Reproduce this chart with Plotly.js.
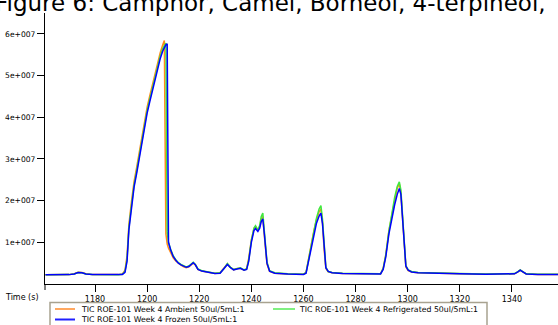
<!DOCTYPE html>
<html>
<head>
<meta charset="utf-8">
<script src="https://cdn.plot.ly/plotly-3.0.1.min.js"></script>
<style>html,body{margin:0;padding:0;background:#fff;}#chart{width:558px;height:325px;}</style>
</head>
<body>
<div id="chart"></div>
<script>
// Retention time (s)
var timeS = [1161,1166,1170,1172,1173.5,1175,1176.5,1179,1184,1189,
  1190.5,1191.5,1192.3,1193,1194,1195,1196,1197,1198,1199,
  1200,1201,1202,1203,1204,1205,1206,1206.6,1207.2,1207.7,
  1208.2,1209,1210,1211,1212,1213,1214,1215,1216,1217,
  1217.7,1218.5,1219.5,1221,1223,1226,1228,1229.5,1230.8,1232,
  1233.2,1234.5,1235.8,1237.2,1238.2,1239,1240,1241,1241.6,1242.5,
  1243.2,1243.8,1244.4,1245,1246,1247,1249,1254,1260,1261,
  1262,1263,1264,1265,1266,1266.7,1267.3,1267.9,1268.6,1269.5,
  1271,1275,1282,1288,1289.6,1290.6,1291.6,1292.8,1294,1295,
  1296,1296.8,1297.4,1298,1298.7,1299.3,1300.2,1301.5,1304,1310,
  1320,1330,1338,1341,1342.3,1343.2,1344.2,1345.5,1350,1358];

// TIC intensities (millions of counts)
var ambientM = [2.2,2.2,2.25,2.45,2.8,2.75,2.45,2.25,2.2,2.25,
  2.4,3.3,6.8,14.2,19.8,24.6,28.0,31.8,35.5,39.1,
  42.4,45.1,47.7,50.3,53.0,55.4,57.4,58.4,12.0,9.6,
  8.6,7.6,6.3,5.5,4.9,4.5,4.1,3.9,4.1,4.7,
  5.0,4.6,3.5,3.1,2.8,2.5,2.7,3.7,4.8,4.0,
  3.4,3.7,3.8,3.3,3.7,6.2,10.6,13.3,13.8,12.9,
  13.8,15.6,16.2,11.5,4.8,3.0,2.6,2.4,2.35,2.8,
  6.2,9.8,12.8,15.4,17.3,18.0,14.8,8.5,3.7,2.9,
  2.7,2.5,2.4,2.35,2.45,3.8,7.0,12.8,17.0,20.3,
  23.0,24.0,21.8,16.0,8.5,4.1,3.2,2.9,2.7,2.55,
  2.45,2.35,2.3,2.45,2.9,3.3,2.9,2.4,2.3,2.3];

var refrigeratedM = [2.2,2.2,2.25,2.4,2.75,2.7,2.4,2.25,2.2,2.2,
  2.35,3.0,6.0,13.5,18.9,23.8,27.2,30.9,34.6,38.2,
  41.6,44.3,46.9,49.4,52.2,54.6,56.5,57.3,57.8,12.5,
  9.9,8.4,6.8,5.8,5.1,4.7,4.3,4.1,4.3,4.9,
  5.2,4.7,3.6,3.2,2.9,2.6,2.7,3.7,4.9,4.0,
  3.5,3.7,3.9,3.4,3.6,5.8,10.4,13.4,14.0,13.0,
  14.0,16.2,17.0,12.6,5.3,3.2,2.7,2.45,2.35,2.7,
  5.9,9.6,12.9,15.8,18.0,18.8,15.6,9.3,4.0,3.0,
  2.75,2.55,2.45,2.4,2.45,3.7,6.9,12.7,17.3,20.8,
  23.4,24.5,22.5,17.3,9.4,4.4,3.4,3.0,2.75,2.6,
  2.5,2.4,2.35,2.5,2.95,3.35,2.95,2.45,2.35,2.35];

var frozenM = [2.2,2.2,2.25,2.4,2.75,2.7,2.4,2.25,2.2,2.2,
  2.3,2.8,5.5,13.0,18.3,23.3,26.6,30.3,34.0,37.6,
  41.0,43.7,46.3,48.8,51.6,54.0,55.9,56.8,57.4,57.6,
  10.0,8.2,6.6,5.7,5.0,4.6,4.2,4.0,4.2,4.8,
  5.1,4.6,3.5,3.1,2.8,2.5,2.6,3.6,4.7,3.9,
  3.4,3.6,3.75,3.3,3.5,5.5,10.0,12.8,13.3,12.6,
  13.4,15.0,15.6,12.0,5.0,3.1,2.6,2.4,2.3,2.6,
  5.5,9.0,12.0,14.6,16.3,17.0,14.5,8.9,3.9,3.0,
  2.7,2.5,2.4,2.35,2.4,3.5,6.5,12.0,16.0,19.0,
  21.5,22.9,21.5,16.5,9.0,4.3,3.3,2.9,2.7,2.55,
  2.45,2.35,2.3,2.45,2.9,3.3,2.9,2.4,2.3,2.3];

var seriesNames = ['TIC ROE-101 Week 4 Ambient 50ul/5mL:1',
                   'TIC ROE-101 Week 4 Refrigerated 50ul/5mL:1',
                   'TIC ROE-101 Week 4 Frozen 50ul/5mL:1'];
var yTickVals = [1e7, 2e7, 3e7, 4e7, 5e7, 6e7];
var yTickText = ['1e+007','2e+007','3e+007','4e+007','5e+007','6e+007'];
var xTickVals = [1180,1200,1220,1240,1260,1280,1300,1320,1340];
var titleText = 'Figure 6: Camphor, Camel, Borneol, 4-terpineol,';

var colors = ['#FF8C1A', '#3FE83F', '#0000FF'];
var legendColors = ['#FFA860', '#80F080', '#2020FF'];
var seriesVals = [ambientM, refrigeratedM, frozenM];

var traces = seriesVals.map(function(arr, i){
  return {
    x: timeS, y: arr.map(function(v){ return v*1e6; }),
    type: 'scatter', mode: 'lines', name: seriesNames[i],
    line: {color: colors[i], width: 1.5}, showlegend: false, hoverinfo: 'skip'
  };
});

var W = 558, H = 325, L = 45, R = 0, T = 13, B = 41;
var pw = W - L - R, ph = H - T - B;
function px(x){ return (x - L) / pw; }
function py(y){ return (H - B - y) / ph; }

var font = 'DejaVu Sans, Verdana, sans-serif';
var shapes = [
  {type:'line', xref:'paper', yref:'paper', x0:0, x1:0, y0:0, y1:py(290), line:{color:'#000', width:1}},
  {type:'rect', xref:'paper', yref:'paper', x0:px(50), x1:px(487), y0:py(302.5), y1:py(330), line:{color:'#A8A290', width:1.5}, fillcolor:'rgba(0,0,0,0)'},
  {type:'line', xref:'paper', yref:'paper', x0:px(55), x1:px(75), y0:py(309), y1:py(309), line:{color:legendColors[0], width:2}},
  {type:'line', xref:'paper', yref:'paper', x0:px(273), x1:px(295), y0:py(309), y1:py(309), line:{color:legendColors[1], width:2}},
  {type:'line', xref:'paper', yref:'paper', x0:px(55), x1:px(75), y0:py(319.5), y1:py(319.5), line:{color:legendColors[2], width:2}}
];
var annotations = [
  {xref:'paper', yref:'paper', x:px(-7), y:py(3), xanchor:'left', yanchor:'middle', text:titleText, showarrow:false, font:{family:font, size:23, color:'#000'}},
  {xref:'paper', yref:'paper', x:px(41), y:py(297), xanchor:'right', yanchor:'middle', text:'Time (s)', showarrow:false, font:{family:font, size:8, color:'#000'}},
  {xref:'paper', yref:'paper', x:px(79), y:py(309), xanchor:'left', yanchor:'middle', text:seriesNames[0], showarrow:false, font:{family:font, size:7.8, color:'#000'}},
  {xref:'paper', yref:'paper', x:px(297), y:py(309), xanchor:'left', yanchor:'middle', text:seriesNames[1], showarrow:false, font:{family:font, size:7.8, color:'#000'}},
  {xref:'paper', yref:'paper', x:px(79), y:py(319.5), xanchor:'left', yanchor:'middle', text:seriesNames[2], showarrow:false, font:{family:font, size:7.8, color:'#000'}}
];

var layout = {
  width: W, height: H,
  margin: {l: L, r: R, t: T, b: B, pad: 0},
  paper_bgcolor: '#fff', plot_bgcolor: '#fff',
  showlegend: false,
  font: {family: font, size: 8, color: '#000'},
  xaxis: {range: [1160.8, 1357.7], tickvals: xTickVals, ticks: 'outside', ticklen: 7, tickwidth: 1, tickcolor: '#000',
          showline: true, linecolor: '#000', linewidth: 1, showgrid: false, zeroline: false, tickfont: {family: font, size: 8}},
  yaxis: {range: [0, 6.5e7], tickvals: yTickVals, ticktext: yTickText, ticks: 'outside', ticklen: 7, tickwidth: 1, tickcolor: '#000',
          showline: true, linecolor: '#000', linewidth: 1, showgrid: false, zeroline: false, tickfont: {family: font, size: 7.6}},
  shapes: shapes,
  annotations: annotations
};

Plotly.newPlot('chart', traces, layout, {staticPlot: true, displayModeBar: false});
</script>
</body>
</html>
